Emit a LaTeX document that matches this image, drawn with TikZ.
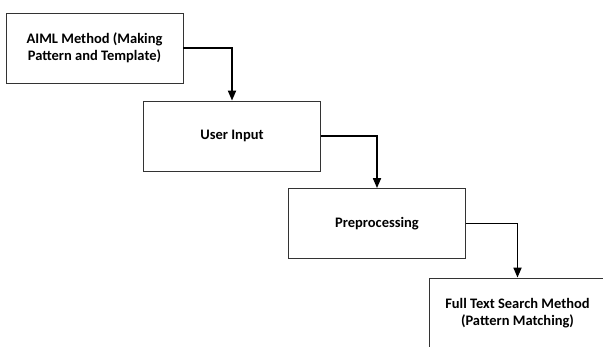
\documentclass[tikz,border=0pt]{standalone}
\usepackage{fontspec}
\setmainfont{Carlito}
\usetikzlibrary{arrows.meta}
\tikzset{
  stepbox/.style={draw=black!80, line width=0.8pt, fill=white, minimum width=177pt, minimum height=70pt, inner sep=0pt, align=center, font=\bfseries\fontsize{14.5}{17.5}\selectfont},
  flow/.style={line width=1.7pt, -{Triangle[length=10pt,width=8pt]}}
}
\begin{document}
\begin{tikzpicture}[x=1pt,y=-1pt]
\useasboundingbox (0,0) rectangle (603,346);
\clip (0,0) rectangle (603,346);
\fill[white] (0,0) rectangle (603,346);
\node[stepbox] (b1) at (94.5,48) {AIML Method (Making\\Pattern and Template)};
\node[stepbox] (b2) at (232,136) {User Input};
\node[stepbox] (b3) at (377,223.5) {Preprocessing};
\node[stepbox] (b4) at (517.5,313) {Full Text Search Method\\(Pattern Matching)};
\draw[flow] (b1.east) -| (b2.north);
\draw[flow] (b2.east) -| (b3.north);
\draw[flow] (b3.east) -| (b4.north);
\end{tikzpicture}
\end{document}
